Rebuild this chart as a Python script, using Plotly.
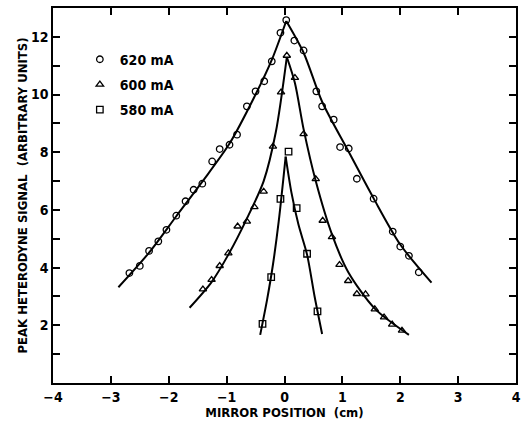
import plotly.graph_objects as go

# ---- data ----
x620 = [-2.68, -2.50, -2.34, -2.18, -2.04, -1.87, -1.71, -1.57, -1.42, -1.25, -1.12, -0.95, -0.82,
        -0.65, -0.50, -0.35, -0.22, -0.07, 0.03, 0.17, 0.33, 0.55, 0.65, 0.85, 0.96, 1.11, 1.25,
        1.54, 1.87, 2.00, 2.15, 2.32]
y620 = [3.81, 4.06, 4.58, 4.91, 5.31, 5.80, 6.30, 6.70, 6.91, 7.68, 8.11, 8.26, 8.61,
        9.59, 10.11, 10.46, 11.15, 12.14, 12.58, 11.87, 11.53, 10.11, 9.59, 9.13, 8.18, 8.13, 7.08,
        6.39, 5.25, 4.73, 4.41, 3.84]

x600 = [-1.41, -1.26, -1.12, -0.97, -0.81, -0.65, -0.52, -0.36, -0.20, -0.06, 0.04, 0.18, 0.33,
        0.54, 0.66, 0.82, 0.95, 1.10, 1.25, 1.40, 1.56, 1.72, 1.86, 2.03]
y600 = [3.25, 3.58, 4.06, 4.50, 5.43, 5.60, 6.10, 6.64, 8.20, 10.08, 11.35, 10.58, 8.63,
        7.07, 5.63, 5.06, 4.10, 3.54, 3.09, 3.08, 2.56, 2.28, 2.03, 1.82]

x580 = [-0.38, -0.23, -0.07, 0.07, 0.21, 0.39, 0.57]
y580 = [2.05, 3.67, 6.38, 8.02, 6.06, 4.48, 2.48]

# fitted curves, left and right branches
fit620_lx = [-2.87, -2.34, -1.87, -1.42, -0.95, -0.50, -0.22, 0.03]
fit620_ly = [3.32, 4.52, 5.78, 6.98, 8.30, 10.00, 11.20, 12.55]
fit620_rx = [0.03, 0.33, 0.65, 1.10, 1.54, 2.00, 2.54]
fit620_ry = [12.55, 11.45, 9.75, 8.05, 6.40, 4.80, 3.48]

fit600_lx = [-1.64, -1.26, -0.97, -0.65, -0.36, -0.15, 0.04]
fit600_ly = [2.61, 3.50, 4.45, 5.70, 7.00, 8.70, 11.30]
fit600_rx = [0.04, 0.18, 0.33, 0.54, 0.82, 1.10, 1.56, 2.15]
fit600_ry = [11.30, 10.40, 8.80, 7.00, 5.15, 3.85, 2.58, 1.67]

fit580_lx = [-0.42, -0.30, -0.20, -0.10, 0.02]
fit580_ly = [1.67, 2.90, 4.10, 5.60, 7.85]
fit580_rx = [0.02, 0.12, 0.24, 0.39, 0.52, 0.65]
fit580_ry = [7.85, 6.60, 5.50, 4.45, 3.00, 1.70]

labels = ["620 mA", "600 mA", "580 mA"]
yticks = [2, 4, 6, 8, 10, 12]
xticks = [-4, -3, -2, -1, 0, 1, 2, 3, 4]

FONT = "DejaVu Sans Condensed, Liberation Sans Narrow, Arial Narrow, sans-serif"

fig = go.Figure()

for fx, fy in [(fit620_lx, fit620_ly), (fit620_rx, fit620_ry),
               (fit600_lx, fit600_ly), (fit600_rx, fit600_ry),
               (fit580_lx, fit580_ly), (fit580_rx, fit580_ry)]:
    fig.add_trace(go.Scatter(x=fx, y=fy, mode="lines", showlegend=False,
                             line=dict(color="black", width=2, shape="spline", smoothing=0.8),
                             hoverinfo="skip"))

for xs, ys, sym, name, grp in [(x620, y620, "circle-open", labels[0], "a"),
                               (x600, y600, "triangle-up-open", labels[1], "b"),
                               (x580, y580, "square-open", labels[2], "c")]:
    fig.add_trace(go.Scatter(x=xs, y=ys, mode="markers", name=name, legendgroup=grp,
                             marker=dict(symbol=sym, size=6.5, color="black",
                                         line=dict(color="black", width=1.3))))

fig.update_layout(
    width=529, height=428,
    margin=dict(l=53, r=13, t=8, b=45, autoexpand=False),
    paper_bgcolor="white", plot_bgcolor="white",
    font=dict(family=FONT, color="black", size=13),
    legend=dict(x=0.058, y=0.905, xanchor="left", yanchor="top",
                font=dict(family=FONT, size=14, color="black", weight="bold"),
                bgcolor="rgba(0,0,0,0)", itemwidth=30, traceorder="grouped",
                tracegroupgap=4),
    xaxis=dict(range=[-4, 4], tickvals=xticks, ticks="inside", ticklen=7,
               showline=True, linecolor="black", linewidth=1.5, mirror="ticks",
               showgrid=False, zeroline=False, tickcolor="black", tickwidth=1.5,
               automargin=False,
               tickfont=dict(family=FONT, size=14, weight="bold"),
               title=dict(text="MIRROR POSITION  (cm)",
                          font=dict(family=FONT, size=13, weight="bold"), standoff=4)),
    yaxis=dict(range=[0, 13], tickvals=yticks, ticks="inside", ticklen=7,
               showline=True, linecolor="black", linewidth=1.5, mirror="ticks",
               showgrid=False, zeroline=False, tickcolor="black", tickwidth=1.5,
               automargin=False,
               tickfont=dict(family=FONT, size=14, weight="bold"),
               minor=dict(tickvals=[1, 3, 5, 7, 9, 11, 13], ticks="inside", ticklen=7,
                          tickcolor="black", tickwidth=1.5, showgrid=False),
               title=dict(text="PEAK HETERODYNE SIGNAL  (ARBITRARY UNITS)",
                          font=dict(family=FONT, size=13, weight="bold"), standoff=0)),
)

fig.write_html("out.html", config={"displayModeBar": False},
               post_script="document.body.style.margin='0';")
